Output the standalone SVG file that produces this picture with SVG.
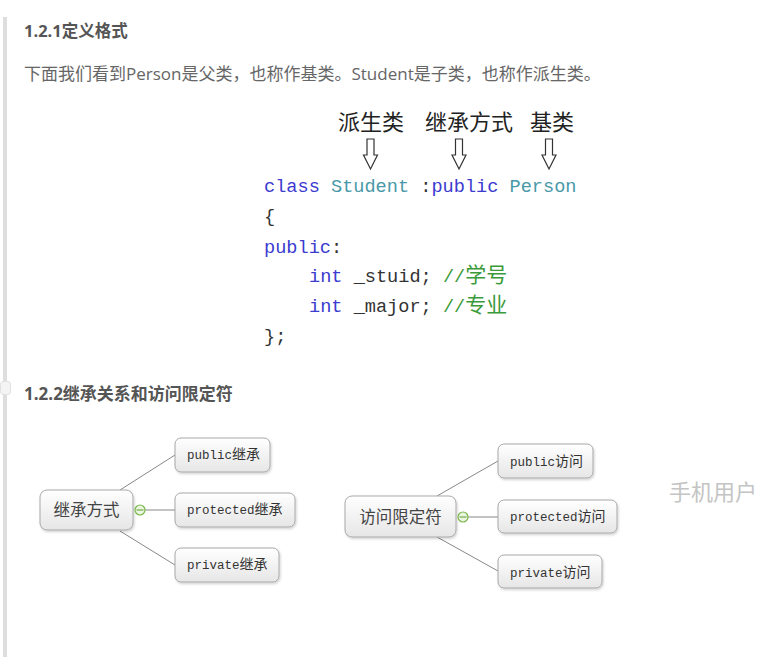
<svg xmlns="http://www.w3.org/2000/svg" width="760" height="657" viewBox="0 0 760 657">
<style>
.h{font-family:"Open Sans","Noto Sans CJK SC",sans-serif;font-weight:bold;fill:#555}
.p{font-family:"Open Sans","Noto Sans CJK SC",sans-serif;fill:#666;font-size:17px}
.lbl{font-family:"Noto Sans CJK SC",serif;fill:#222;font-size:22px}
.code{font-family:"Liberation Mono","Noto Sans CJK SC",monospace;font-size:18.6px;fill:#333}
.kw{fill:#3b3bd0}
.ty{fill:#4a99a8}
.cm{fill:#3a9a3a}
.cj{font-size:21px;font-family:"Noto Sans CJK SC",sans-serif}
.box{fill:url(#g);stroke:#a8a8a8;stroke-width:1;filter:url(#sh)}
.bt{font-family:"Liberation Mono","Noto Sans CJK SC",monospace;font-size:12.5px;fill:#333}
.bt tspan{font-size:14px}
.rt{font-family:"Noto Sans CJK SC",serif;font-size:16.5px;fill:#444}
.ln{stroke:#888;stroke-width:1;fill:none}
.arr{fill:#fff;stroke:#333;stroke-width:1.2}
.tog{fill:#eaf6e0;stroke:#7ab648;stroke-width:1.2}
</style>
<defs>
<linearGradient id="g" x1="0" y1="0" x2="0" y2="1">
<stop offset="0" stop-color="#ffffff"/>
<stop offset="1" stop-color="#e6e6e6"/>
</linearGradient>
<filter id="sh" x="-10%" y="-20%" width="130%" height="150%">
<feDropShadow dx="1" dy="1.5" stdDeviation="1.2" flood-color="#000" flood-opacity="0.18"/>
</filter>
</defs>
<rect width="760" height="657" fill="#fff"/>
<rect x="3" y="17" width="4" height="640" fill="#dedede"/>
<text class="h" x="24" y="37" font-size="16.5">1.2.1定义格式</text>
<text class="p" x="24" y="80">下面我们看到Person是父类，也称作基类。Student是子类，也称作派生类。</text>

<g id="labels">
<text class="lbl" x="338" y="130">派生类</text>
<text class="lbl" x="425" y="130">继承方式</text>
<text class="lbl" x="530" y="130">基类</text>
</g>
<g id="arrows">
<polygon class="arr" points="367,139 374,139 374,155 377.5,155 370.5,169 363.5,155 367,155"/>
<polygon class="arr" points="455.5,139 462.5,139 462.5,155 466,155 459,169 452,155 455.5,155"/>
<polygon class="arr" points="545.5,139 552.5,139 552.5,155 556,155 549,169 542,155 545.5,155"/>
</g>
<g id="code" class="code">
<text x="264" y="192" xml:space="preserve"><tspan class="kw">class</tspan> <tspan class="ty">Student</tspan> :<tspan class="kw">public</tspan> <tspan class="ty">Person</tspan></text>
<text x="264" y="222">{</text>
<text x="264" y="253"><tspan class="kw">public</tspan>:</text>
<text x="309" y="282" xml:space="preserve"><tspan class="kw">int</tspan> _stuid; <tspan class="cm">//<tspan class="cj">学号</tspan></tspan></text>
<text x="309" y="312" xml:space="preserve"><tspan class="kw">int</tspan> _major; <tspan class="cm">//<tspan class="cj">专业</tspan></tspan></text>
<text x="264" y="342">};</text>
</g>

<rect x="0.5" y="381.5" width="10" height="13" rx="3" fill="#f4f4f4" stroke="#e0e0e0"/>
<text class="h" x="24" y="400" font-size="17">1.2.2继承关系和访问限定符</text>

<g id="connectors">
<path class="ln" d="M120,490 L175,455"/>
<path class="ln" d="M120,531 L175,565"/>
<path class="ln" d="M145,510 L175,510"/>
<path class="ln" d="M437,496 L498,461"/>
<path class="ln" d="M437,537 L498,571"/>
<path class="ln" d="M468,517 L498,517"/>
</g>

<g id="root1">
<rect class="box" x="40" y="490" width="93" height="40" rx="7"/>
<text class="rt" x="86.5" y="516" text-anchor="middle">继承方式</text>
<circle class="tog" cx="140" cy="510" r="5"/>
<line x1="136.5" y1="510" x2="143.5" y2="510" stroke="#5a9a30" stroke-width="1"/>
</g>
<g id="pub1">
<rect class="box" x="175" y="438" width="95" height="34" rx="6"/>
<text class="bt" x="187" y="459">public<tspan>继承</tspan></text>
</g>
<g id="prot1">
<rect class="box" x="175" y="493" width="120" height="34" rx="6"/>
<text class="bt" x="187" y="514">protected<tspan>继承</tspan></text>
</g>
<g id="priv1">
<rect class="box" x="175" y="548" width="104" height="34" rx="6"/>
<text class="bt" x="187" y="569">private<tspan>继承</tspan></text>
</g>

<g id="root2">
<rect class="box" x="345" y="496" width="111" height="41" rx="7"/>
<text class="rt" x="400.5" y="523" text-anchor="middle">访问限定符</text>
<circle class="tog" cx="463" cy="517" r="5"/>
<line x1="459.5" y1="517" x2="466.5" y2="517" stroke="#5a9a30" stroke-width="1"/>
</g>
<g id="pub2">
<rect class="box" x="498" y="444" width="95" height="34" rx="6"/>
<text class="bt" x="510" y="466">public<tspan>访问</tspan></text>
</g>
<g id="prot2">
<rect class="box" x="498" y="500" width="119" height="33" rx="6"/>
<text class="bt" x="510" y="521">protected<tspan>访问</tspan></text>
</g>
<g id="priv2">
<rect class="box" x="498" y="555" width="104" height="33" rx="6"/>
<text class="bt" x="510" y="577">private<tspan>访问</tspan></text>
</g>

<text x="669" y="500" font-family="Noto Sans CJK SC, sans-serif" font-size="22" fill="#c4c4c4">手机用户</text>
</svg>
